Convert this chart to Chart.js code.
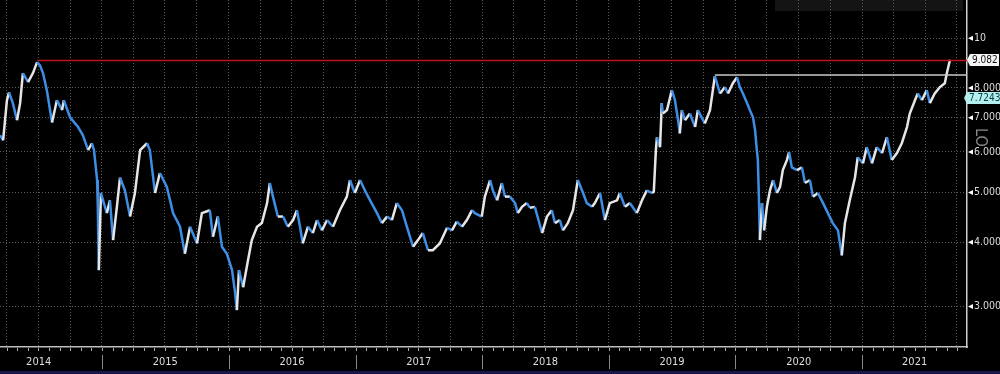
<!DOCTYPE html>
<html>
<head>
<meta charset="utf-8">
<script src="https://cdn.jsdelivr.net/npm/chart.js@4"></script>
<style>
  html, body { margin: 0; padding: 0; background: #000; }
  canvas { display: block; }
</style>
</head>
<body>
<canvas id="chart" width="1000" height="374"></canvas>
<script>
// price history (roughly every two weeks plus turning points)
const dates = [
  "2014-03-13","2014-03-22","2014-04-02","2014-04-08","2014-04-19","2014-05-01","2014-05-10","2014-05-18","2014-06-02","2014-06-16",
  "2014-06-28","2014-07-06","2014-07-15","2014-07-26","2014-08-10","2014-08-24","2014-09-08","2014-09-13","2014-10-01","2014-10-24",
  "2014-11-07","2014-11-22","2014-12-03","2014-12-09","2014-12-18","2014-12-20","2014-12-23","2014-12-29","2015-01-15","2015-01-24",
  "2015-02-02","2015-02-13","2015-02-22","2015-03-08","2015-03-23","2015-04-06","2015-04-21","2015-05-11","2015-05-19","2015-06-03",
  "2015-06-17","2015-07-07","2015-07-25","2015-08-14","2015-08-28","2015-09-12","2015-10-02","2015-10-16","2015-11-08","2015-11-17",
  "2015-12-01","2015-12-13","2015-12-27","2016-01-11","2016-01-19","2016-01-25","2016-01-31","2016-02-12","2016-02-26","2016-03-08",
  "2016-03-23","2016-04-06","2016-04-21","2016-04-29","2016-05-08","2016-05-22","2016-06-06","2016-06-20","2016-07-05","2016-07-16",
  "2016-07-25","2016-08-02","2016-08-17","2016-08-31","2016-09-12","2016-09-26","2016-10-11","2016-10-28","2016-11-17","2016-12-07",
  "2016-12-16","2016-12-30","2017-01-14","2017-01-28","2017-02-12","2017-03-04","2017-03-18","2017-04-02","2017-04-16","2017-04-30",
  "2017-05-15","2017-05-29","2017-06-16","2017-06-30","2017-07-14","2017-07-29","2017-08-12","2017-09-01","2017-09-22","2017-10-06",
  "2017-10-20","2017-11-04","2017-11-18","2017-12-03","2017-12-11","2017-12-31","2018-01-09","2018-01-24","2018-02-01","2018-02-13",
  "2018-02-27","2018-03-08","2018-03-22","2018-04-06","2018-04-14","2018-04-26","2018-05-10","2018-05-19","2018-06-02","2018-06-23",
  "2018-07-07","2018-07-21","2018-07-30","2018-08-13","2018-08-22","2018-09-05","2018-09-20","2018-10-04","2018-10-19","2018-10-30",
  "2018-11-14","2018-11-22","2018-12-07","2018-12-21","2019-01-04","2019-01-25","2019-02-02","2019-02-17","2019-03-03","2019-03-23",
  "2019-04-07","2019-04-21","2019-05-06","2019-05-11","2019-05-17","2019-05-20","2019-05-29","2019-06-03","2019-06-06","2019-06-18",
  "2019-07-02","2019-07-11","2019-07-20","2019-07-25","2019-07-31","2019-08-09","2019-08-23","2019-09-07","2019-09-15","2019-10-05",
  "2019-10-20","2019-11-03","2019-11-18","2019-12-02","2019-12-11","2019-12-25","2020-01-06","2020-01-14","2020-01-23","2020-02-04",
  "2020-02-12","2020-02-21","2020-02-27","2020-03-03","2020-03-06","2020-03-09","2020-03-12","2020-03-18","2020-03-24","2020-04-01",
  "2020-04-10","2020-04-19","2020-04-30","2020-05-09","2020-05-17","2020-05-29","2020-06-04","2020-06-12","2020-06-27","2020-07-11",
  "2020-07-20","2020-08-03","2020-08-12","2020-08-26","2020-09-10","2020-09-24","2020-10-08","2020-10-23","2020-11-03","2020-11-12",
  "2020-11-26","2020-12-11","2020-12-19","2021-01-03","2021-01-14","2021-01-29","2021-02-12","2021-02-27","2021-03-13","2021-03-27",
  "2021-04-11","2021-04-25","2021-05-10","2021-05-18","2021-06-02","2021-06-10","2021-06-22","2021-07-06","2021-07-15","2021-07-29",
  "2021-08-13","2021-08-27","2021-09-02","2021-09-11"
];
const prices = [
  6.47,6.32,7.57,7.84,7.47,6.92,7.47,8.55,8.21,8.55,
  8.98,8.86,8.55,7.92,6.85,7.57,7.24,7.57,7.01,6.71,
  6.47,6.05,6.24,6.05,5.29,4.69,3.53,4.99,4.56,4.83,
  4.04,4.69,5.35,5.05,4.49,4.99,6.05,6.24,6.05,4.99,
  5.46,5.13,4.56,4.29,3.80,4.29,3.98,4.56,4.62,4.10,
  4.49,3.92,3.80,3.53,3.22,2.95,3.53,3.27,3.69,4.04,
  4.29,4.36,4.77,5.22,4.91,4.49,4.49,4.29,4.42,4.62,
  4.29,3.98,4.29,4.17,4.42,4.22,4.42,4.29,4.62,4.91,
  5.29,4.99,5.29,5.05,4.83,4.56,4.36,4.49,4.42,4.77,
  4.62,4.29,3.92,4.04,4.17,3.86,3.86,3.98,4.27,4.22,
  4.39,4.29,4.42,4.62,4.56,4.49,4.91,5.29,5.05,4.83,
  5.22,4.91,4.91,4.77,4.56,4.69,4.77,4.67,4.69,4.17,
  4.49,4.62,4.36,4.42,4.22,4.36,4.62,5.29,4.99,4.77,
  4.69,4.77,4.99,4.42,4.77,4.83,4.99,4.69,4.77,4.56,
  4.83,5.05,4.99,5.02,6.05,6.41,6.13,7.47,7.13,7.24,
  7.92,7.57,6.92,6.52,7.24,6.92,7.13,6.71,7.24,6.82,
  7.24,8.43,7.80,8.03,7.80,8.17,8.39,8.03,7.80,7.47,
  7.24,7.01,6.62,6.05,5.79,4.91,4.04,4.77,4.22,4.69,
  5.05,5.29,4.99,5.13,5.53,5.79,6.00,5.60,5.53,5.60,
  5.22,5.29,4.91,4.99,4.77,4.56,4.36,4.22,3.77,4.36,
  4.83,5.35,5.86,5.70,6.13,5.70,6.13,5.97,6.41,5.79,
  5.97,6.24,6.71,7.13,7.57,7.80,7.57,7.92,7.47,7.80,
  8.03,8.17,8.55,9.08
];

// reference levels and labels
const highLevel = 9.05, highStart = "2014-06-28";
const peakLevel = 8.48, peakStart = "2019-11-03";
const lastPrice = 9.082;
const otherPrice = 7.7243;
const yTicks = [3, 4, 5, 6, 7, 8, 10];
const years = [2014, 2015, 2016, 2017, 2018, 2019, 2020, 2021];
const xStart = "2014-03-13", xEnd = "2021-10-30";

function ms(s) {
  const p = s.split("-").map(Number);
  return Date.UTC(p[0], p[1] - 1, p[2]);
}
const xMin = ms(xStart), xMax = ms(xEnd);
const FONT = "'Liberation Sans Narrow', 'DejaVu Sans Condensed', 'Liberation Sans', sans-serif";

const series = dates.map((d, i) => ({ x: ms(d), y: prices[i] }));

const decor = {
  id: "decor",
  beforeDraw(chart) {
    const c = chart.ctx;
    c.save();
    c.fillStyle = "#000";
    c.fillRect(0, 0, chart.width, chart.height);
    c.fillStyle = "#141414";
    c.fillRect(775, 0, 188, 11);
    c.fillStyle = "#17174a";
    c.fillRect(0, 371, chart.width, 3);
    c.restore();
  },
  afterDraw(chart) {
    const c = chart.ctx, xs = chart.scales.x, ys = chart.scales.y, a = chart.chartArea;
    c.save();
    // monthly ticks under the axis
    c.strokeStyle = "#aaa";
    c.lineWidth = 1;
    for (let y = 2014; y <= 2021; y++) {
      for (let m = 0; m < 12; m++) {
        const v = Date.UTC(y, m, 1);
        if (v < xMin || v > xMax) continue;
        const px = Math.round(xs.getPixelForValue(v)) + 0.5;
        c.beginPath(); c.moveTo(px, a.bottom + 1); c.lineTo(px, a.bottom + 4); c.stroke();
      }
    }
    // year separators and labels
    c.font = "11px " + FONT;
    c.fillStyle = "#ddd";
    c.textAlign = "center";
    c.textBaseline = "middle";
    years.forEach(yr => {
      const s = Date.UTC(yr, 0, 1), e = Date.UTC(yr + 1, 0, 1);
      if (s > xMin) {
        const px = Math.round(xs.getPixelForValue(s)) + 0.5;
        c.strokeStyle = "#888";
        c.beginPath(); c.moveTo(px, 355); c.lineTo(px, 369); c.stroke();
      }
      const mid = (xs.getPixelForValue(s) + xs.getPixelForValue(Math.min(e, xMax))) / 2;
      c.fillText(String(yr), mid, 362);
    });
    // little markers on the price axis
    c.fillStyle = "#fff";
    yTicks.forEach(v => {
      const py = ys.getPixelForValue(v);
      c.beginPath(); c.moveTo(968, py); c.lineTo(973, py - 2.5); c.lineTo(973, py + 2.5); c.closePath(); c.fill();
    });
    // value boxes
    function box(v, txt, bg, fg, x0, w, dy) {
      const py = Math.round(ys.getPixelForValue(v)) + dy;
      c.fillStyle = bg;
      c.beginPath();
      c.moveTo(x0 - 3, py); c.lineTo(x0, py - 6); c.lineTo(x0 + w, py - 6);
      c.lineTo(x0 + w, py + 6); c.lineTo(x0, py + 6); c.closePath(); c.fill();
      c.fillStyle = fg;
      c.textAlign = "left";
      c.font = "10px " + FONT;
      c.fillText(txt, x0 + 2, py + 0.5);
    }
    box(lastPrice, "9.082", "#f4f4f4", "#111", 970, 29, 0);
    box(otherPrice, "7.7243", "#b4eeee", "#064040", 967, 33, 2);
    // clipped axis caption
    c.save();
    c.translate(980, 128);
    c.rotate(Math.PI / 2);
    c.fillStyle = "#8a8a8a";
    c.font = "16px " + FONT;
    c.textAlign = "left";
    c.fillText("LO", 0, 0);
    c.restore();
    c.restore();
  }
};

new Chart(document.getElementById("chart"), {
  type: "line",
  data: {
    datasets: [
      {
        data: [{ x: ms(highStart), y: highLevel }, { x: xMax, y: highLevel }],
        borderColor: "#c0141c", borderWidth: 1.5, pointRadius: 0, order: 0
      },
      {
        data: [{ x: ms(peakStart), y: peakLevel }, { x: xMax, y: peakLevel }],
        borderColor: "#c8c8c8", borderWidth: 1.5, pointRadius: 0, order: 1
      },
      {
        data: series,
        borderWidth: 2.5,
        pointRadius: 0,
        tension: 0,
        order: 2,
        segment: {
          borderColor: ctx => ctx.p1.parsed.y >= ctx.p0.parsed.y ? "#e6e6e6" : "#3d8ee6"
        }
      }
    ]
  },
  options: {
    responsive: false,
    animation: false,
    devicePixelRatio: 1,
    layout: { padding: 0 },
    plugins: { legend: { display: false }, tooltip: { enabled: false } },
    scales: {
      x: {
        type: "linear",
        min: xMin,
        max: xMax,
        afterBuildTicks: s => {
          const t = [];
          for (let y = 2014; y <= 2021; y++) {
            for (let m = 0; m < 12; m += 3) {
              const v = Date.UTC(y, m, 1);
              if (v > xMin && v < xMax) t.push({ value: v });
            }
          }
          s.ticks = t;
        },
        afterFit: s => { s.height = 27; s.paddingLeft = 0; s.paddingRight = 0; },
        ticks: { display: false },
        grid: { color: "#5a5a5a", lineWidth: 1, drawTicks: false },
        border: { display: true, color: "#bdbdbd", width: 1.5, dash: [1, 2] }
      },
      y: {
        type: "logarithmic",
        position: "right",
        min: 2.5,
        max: 11.87,
        afterBuildTicks: s => { s.ticks = yTicks.map(v => ({ value: v })); },
        afterFit: s => { s.width = 33; s.paddingTop = 0; s.paddingBottom = 0; },
        ticks: {
          color: "#dcdcdc",
          padding: 7,
          font: { size: 10.5, family: FONT },
          callback: v => v === 10 ? "10" : Number(v).toFixed(3)
        },
        grid: { color: "#5a5a5a", lineWidth: 1, drawTicks: false },
        border: { display: true, color: "#d0d0d0", width: 1.5, dash: [1, 2] }
      }
    }
  },
  plugins: [decor]
});
</script>
</body>
</html>
